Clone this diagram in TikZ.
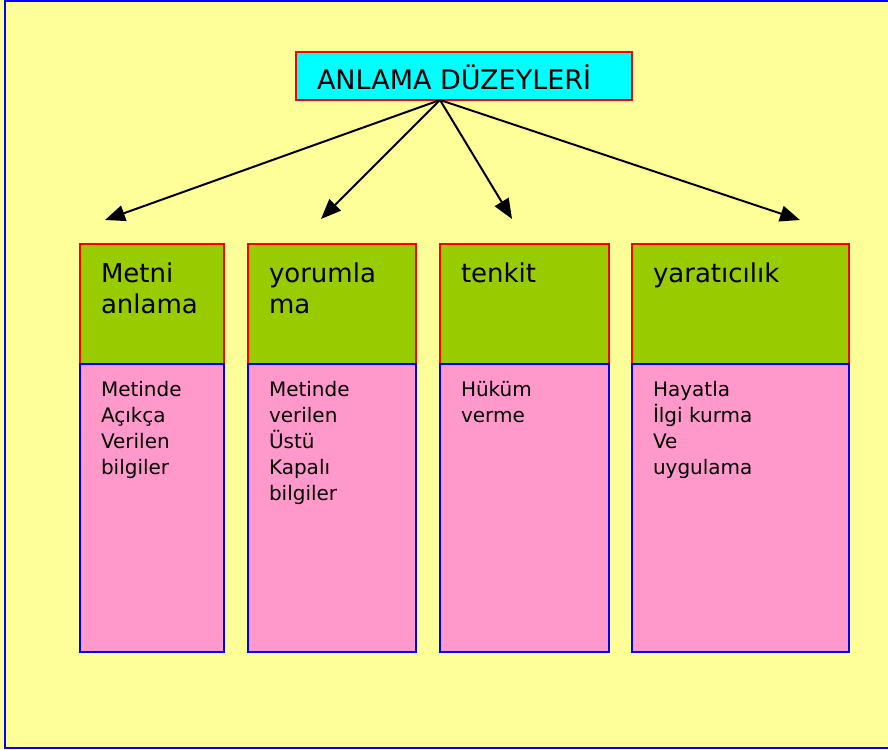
\documentclass[tikz,border=0pt]{standalone}
\usepackage{fontspec}
\setmainfont{DejaVu Sans}
\usetikzlibrary{positioning,arrows.meta}
\definecolor{bgyellow}{HTML}{FFFF99}
\definecolor{ttlcyan}{HTML}{00FFFF}
\definecolor{hdgreen}{HTML}{99CC00}
\definecolor{bdpink}{HTML}{FF99CC}

\begin{document}
\begin{tikzpicture}[x=1pt, y=-1pt, outer sep=0pt,
  ttl/.style={draw=red, fill=ttlcyan, line width=2pt, minimum width=336pt, minimum height=48pt, anchor=north west},
  hd/.style={draw=red, fill=hdgreen, line width=2pt, minimum height=120pt, anchor=north west},
  bd/.style={draw=blue, fill=bdpink, line width=2pt, minimum height=288pt},
  ht/.style={anchor=base west, align=left, inner sep=0pt, font=\fontsize{26}{31}\selectfont},
  bt/.style={anchor=base west, align=left, inner sep=0pt, font=\fontsize{20}{26}\selectfont},
  arr/.style={-{Triangle[length=20pt,width=16pt]}, line width=2pt}]
	\useasboundingbox (0,0) rectangle (888,749);
	\fill[bgyellow] (0,0) rectangle (888,749);
	\draw[blue, line width=2pt] (920,1.5) -| (4.5,748) -- (920,748);

	\node[ttl] (T) at (296,52) {};
	\node[ht, font=\fontsize{27}{31}\selectfont] (T_label) at (317,90) {ANLAMA DÜZEYLERİ};

	\node[hd, minimum width=144pt] (H1) at (80,244) {};
	\node[bd, minimum width=144pt, below=0pt of H1] (B1) {};
	\node[hd, minimum width=168pt] (H2) at (248,244) {};
	\node[bd, minimum width=168pt, below=0pt of H2] (B2) {};
	\node[hd, minimum width=169pt] (H3) at (440,244) {};
	\node[bd, minimum width=169pt, below=0pt of H3] (B3) {};
	\node[hd, minimum width=217pt] (H4) at (632,244) {};
	\node[bd, minimum width=217pt, below=0pt of H4] (B4) {};

	% base west is the last line here
	\node[ht] (H1_label) at (101,313) {Metni\\anlama};
	\node[ht] (H2_label) at (269,313) {yorumla\\ma};
	\node[ht] (H3_label) at (461,282) {tenkit};
	\node[ht] (H4_label) at (653,282) {yaratıcılık};

	\node[bt] (B1_label) at (101,474) {Metinde\\Açıkça\\Verilen\\bilgiler};
	\node[bt] (B2_label) at (269,500) {Metinde\\verilen\\Üstü\\Kapalı\\bilgiler};
	\node[bt] (B3_label) at (461,422) {Hüküm\\verme};
	\node[bt] (B4_label) at (653,474) {Hayatla\\İlgi kurma\\Ve\\uygulama};

	\coordinate (o) at (440,100);
	\coordinate (p1) at (105,220);
	\coordinate (p2) at (321,219);
	\coordinate (p3) at (512,219);
	\coordinate (p4) at (800,220);
	\draw[arr] (o) -- (p1);
	\draw[arr] (o) -- (p2);
	\draw[arr] (o) -- (p3);
	\draw[arr] (o) -- (p4);
\end{tikzpicture}
\end{document}
